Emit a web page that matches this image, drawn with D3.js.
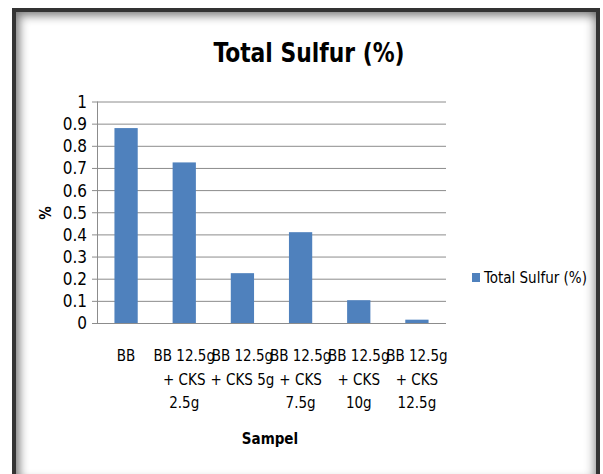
<!DOCTYPE html>
<html>
<head>
<meta charset="utf-8">
<script src="https://cdnjs.cloudflare.com/ajax/libs/d3/7.8.5/d3.min.js"></script>
<style>
  body { margin: 0; background: #fff; }
  #frame {
    position: absolute; left: 12px; top: 8px;
    width: 580px; height: 470px;
    border: 4px solid #333;
    box-shadow: inset 4px 4px 10px rgba(0,0,0,0.45), inset -3px -3px 10px rgba(0,0,0,0.3);
  }
  #chart { position: absolute; left: 0; top: 0; }
  text { font-family: "DejaVu Sans", sans-serif; font-stretch: condensed; fill: #000; }
</style>
</head>
<body>
<div id="frame"></div>
<div id="chart"></div>
<script>
var width = 603,
    height = 474;

var categories = ["BB", "BB 12.5g + CKS 2.5g", "BB 12.5g + CKS 5g", "BB 12.5g + CKS 7.5g", "BB 12.5g + CKS 10g", "BB 12.5g + CKS 12.5g"];
var tickLines = [["BB"], ["BB 12.5g", "+ CKS", "2.5g"], ["BB 12.5g", "+ CKS 5g"], ["BB 12.5g", "+ CKS", "7.5g"], ["BB 12.5g", "+ CKS", "10g"], ["BB 12.5g", "+ CKS", "12.5g"]];
var sulfur = [0.88, 0.725, 0.225, 0.41, 0.103, 0.015];
var yTicks = [0, 0.1, 0.2, 0.3, 0.4, 0.5, 0.6, 0.7, 0.8, 0.9, 1];

var plotLeft = 97, plotRight = 446, plotTop = 101.5, plotBottom = 323;

var svg = d3.select("#chart").append("svg")
  .attr("width", width)
  .attr("height", height);

var x = d3.scaleBand()
  .domain(categories)
  .range([plotLeft, plotRight])
  .paddingInner(0.6)
  .paddingOuter(0.3);

var y = d3.scaleLinear()
  .domain([0, 1])
  .range([plotBottom, plotTop]);

// gridlines + ticks
var yAxis = svg.append("g")
  .attr("transform", "translate(" + plotLeft + ",0)")
  .call(d3.axisLeft(y).tickValues(yTicks).tickSizeOuter(0)
    .tickFormat(function(d) { return d === 0 || d === 1 ? d3.format("d")(d) : d3.format(".1f")(d); }));
yAxis.select(".domain").remove();
yAxis.selectAll(".tick line").attr("stroke", "#8c8c8c").attr("x1", -5).attr("x2", plotRight - plotLeft);
yAxis.selectAll(".tick text").attr("x", -10).attr("font-size", "17px").attr("dy", "0.35em");

svg.append("line")
  .attr("x1", plotLeft + 0.5).attr("x2", plotLeft + 0.5)
  .attr("y1", plotTop).attr("y2", plotBottom)
  .attr("stroke", "#8c8c8c");

svg.append("line")
  .attr("x1", plotLeft - 5).attr("x2", plotRight)
  .attr("y1", plotBottom + 0.5).attr("y2", plotBottom + 0.5)
  .attr("stroke", "#8c8c8c");

svg.selectAll("rect.bar")
  .data(sulfur)
  .enter().append("rect")
  .attr("class", "bar")
  .attr("x", function(d, i) { return x(categories[i]); })
  .attr("width", x.bandwidth())
  .attr("y", function(d) { return y(d); })
  .attr("height", function(d) { return plotBottom - y(d); })
  .attr("fill", "#4f81bd");

// category labels
var labels = svg.append("g").selectAll("text")
  .data(tickLines)
  .enter().append("text")
  .attr("text-anchor", "middle")
  .attr("font-size", "15px")
  .attr("x", function(d, i) { return x(categories[i]) + x.bandwidth() / 2; })
  .attr("y", 361);
labels.selectAll("tspan")
  .data(function(d) { return d; })
  .enter().append("tspan")
  .attr("x", function() { return d3.select(this.parentNode).attr("x"); })
  .attr("dy", function(d, i) { return i === 0 ? 0 : 23.5; })
  .text(function(d) { return d; });

svg.append("text")
  .attr("transform", "translate(309,62) scale(0.9,1)")
  .attr("text-anchor", "middle")
  .attr("font-size", "27px")
  .attr("font-weight", "bold")
  .text("Total Sulfur (%)");

svg.append("text")
  .attr("x", 270).attr("y", 444)
  .attr("text-anchor", "middle")
  .attr("font-size", "15px")
  .attr("font-weight", "bold")
  .text("Sampel");

svg.append("text")
  .attr("transform", "translate(51,213) rotate(-90)")
  .attr("text-anchor", "middle")
  .attr("font-size", "15px")
  .attr("font-weight", "bold")
  .text("%");

// legend
var legend = svg.append("g").attr("transform", "translate(472,273)");
legend.append("rect").attr("width", 8).attr("height", 9).attr("fill", "#4f81bd");
legend.append("text").attr("x", 12).attr("y", 10).attr("font-size", "15px").text("Total Sulfur (%)");
</script>
</body>
</html>
